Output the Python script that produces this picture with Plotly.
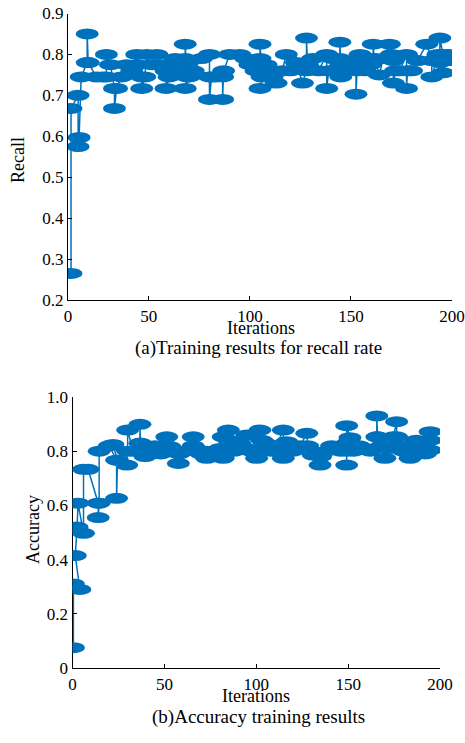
import plotly.graph_objects as go

# ---------------- data ----------------
recall_iter = [11.5, 11.5, 15, 15, 15.5, 16.5, 19.5, 19.5, 20, 24, 27, 29, 29, 31, 33, 33, 34,
               36.5, 39, 41.5, 44, 44.5, 46.5, 46.5, 48, 49, 51.5, 54, 57, 58.5, 58.5, 60, 61,
               63, 66, 68, 68, 68.5, 69, 68, 70, 72, 76, 80, 80, 80, 81, 83, 86.5, 86.5, 87, 90,
               95, 98, 100, 103, 105, 105, 105.5, 106, 105, 107, 108, 111, 113, 116, 118, 120,
               123, 126, 128, 128, 128.5, 131, 134, 138, 138, 139, 141, 144.5, 144.5, 145, 145,
               147, 149.5, 152.5, 152.5, 153, 154.5, 157, 159.5, 161, 161, 161.5, 164, 166, 169,
               170, 171, 171, 172, 174, 177.5, 177.5, 178, 180, 183, 187.5, 190, 190, 193, 194,
               194, 195.5, 195.5, 198, 199]
recall_val = [0.265, 0.668, 0.70, 0.575, 0.597, 0.745, 0.78, 0.85, 0.78, 0.745, 0.745, 0.745,
              0.80, 0.775, 0.717, 0.668, 0.717, 0.745, 0.775, 0.76, 0.80, 0.775, 0.745, 0.717,
              0.745, 0.80, 0.775, 0.80, 0.775, 0.76, 0.717, 0.745, 0.76, 0.79, 0.775, 0.79,
              0.825, 0.775, 0.745, 0.717, 0.745, 0.76, 0.79, 0.80, 0.745, 0.69, 0.745, 0.745,
              0.745, 0.69, 0.76, 0.80, 0.80, 0.79, 0.775, 0.76, 0.79, 0.825, 0.775, 0.745,
              0.717, 0.76, 0.775, 0.745, 0.73, 0.76, 0.80, 0.76, 0.78, 0.73, 0.76, 0.84, 0.775,
              0.79, 0.76, 0.80, 0.717, 0.76, 0.79, 0.79, 0.83, 0.775, 0.745, 0.77, 0.775, 0.785,
              0.703, 0.76, 0.80, 0.76, 0.775, 0.79, 0.825, 0.79, 0.75, 0.79, 0.825, 0.80, 0.785,
              0.73, 0.76, 0.76, 0.80, 0.717, 0.76, 0.76, 0.785, 0.825, 0.785, 0.745, 0.80, 0.78,
              0.84, 0.80, 0.755, 0.80, 0.785]

acc_iter = [0.5, 0.5, 4, 1.5, 2.5, 3, 6, 6, 8.5, 14, 14, 14.5, 14.5, 20, 24, 24, 24.5, 22,
            29.5, 30, 30, 33, 36.7, 36.7, 37, 39.5, 42, 45, 48, 51.3, 51.3, 53, 57.6, 57.6, 58,
            61, 65.7, 65.7, 66.7, 70, 73, 73, 76, 80.3, 82, 82, 84, 84.8, 85, 88, 91, 94.8,
            94.8, 97, 100.2, 100.5, 102, 103, 105, 108, 111, 114.7, 114.7, 115, 116.6, 120, 124,
            127.5, 128, 131, 134.7, 135, 138, 141, 143.8, 146, 149.2, 149.2, 149.5, 149.2, 151,
            153, 156, 159, 162, 165.6, 165.6, 166, 168, 170, 172, 174.6, 176.4, 176.4, 177, 180,
            183.7, 183.7, 184, 187, 189.1, 192, 194.6, 194.6, 194.6]
acc_val = [0.075, 0.31, 0.29, 0.415, 0.52, 0.608, 0.497, 0.733, 0.733, 0.608, 0.555, 0.608,
           0.80, 0.82, 0.767, 0.626, 0.767, 0.825, 0.749, 0.80, 0.878, 0.80, 0.829, 0.899, 0.83,
           0.78, 0.80, 0.82, 0.79, 0.82, 0.853, 0.817, 0.80, 0.755, 0.79, 0.80, 0.82, 0.853,
           0.81, 0.79, 0.774, 0.80, 0.80, 0.81, 0.853, 0.774, 0.80, 0.878, 0.84, 0.80, 0.83,
           0.86, 0.81, 0.80, 0.774, 0.80, 0.878, 0.84, 0.83, 0.80, 0.82, 0.878, 0.774, 0.80,
           0.835, 0.80, 0.82, 0.866, 0.82, 0.786, 0.749, 0.78, 0.80, 0.82, 0.817, 0.80, 0.829,
           0.749, 0.80, 0.894, 0.85, 0.80, 0.82, 0.81, 0.80, 0.853, 0.93, 0.853, 0.82, 0.774,
           0.81, 0.853, 0.909, 0.853, 0.82, 0.80, 0.82, 0.774, 0.80, 0.84, 0.81, 0.79, 0.804,
           0.84, 0.872]

recall_xtick_vals = [10, 50, 100, 150, 200]
recall_xtick_text = ["0", "50", "100", "150", "200"]
recall_ytick_vals = [0.2, 0.3, 0.4, 0.5, 0.6, 0.7, 0.8, 0.9]
recall_ytick_text = ["0.2", "0.3", "0.4", "0.5", "0.6", "0.7", "0.8", "0.9"]
acc_xtick_vals = [0, 50, 100, 150, 200]
acc_xtick_text = ["0", "50", "100", "150", "200"]
acc_ytick_vals = [0, 0.2, 0.4, 0.6, 0.8, 1.0]
acc_ytick_text = ["0", "0.2", "0.4", "0.6", "0.8", "1.0"]

# ---------------- style ----------------
W, H = 465, 743
BLUE = "#0072BD"
FONT = "Liberation Serif, Times New Roman, serif"
FS_TICK = 17
FS_TITLE = 18
FS_CAPTION = 19

def px_x(p):
    return p / W

def px_y(p):
    return (H - p) / H

fig = go.Figure()
fig.add_trace(go.Scatter(x=recall_iter, y=recall_val, mode="lines",
                         line=dict(color=BLUE, width=1.5), xaxis="x", yaxis="y",
                         showlegend=False, hoverinfo="skip"))
fig.add_trace(go.Scatter(x=acc_iter, y=acc_val, mode="lines",
                         line=dict(color=BLUE, width=1.5), xaxis="x2", yaxis="y2",
                         showlegend=False, hoverinfo="skip"))

shapes = []
for xs, ys, xr, yr in [(recall_iter, recall_val, "x", "y"), (acc_iter, acc_val, "x2", "y2")]:
    for xv, yv in zip(xs, ys):
        shapes.append(dict(type="circle", xref=xr, yref=yr,
                           xsizemode="pixel", ysizemode="pixel",
                           xanchor=xv, yanchor=yv,
                           x0=-11.5, x1=11.5, y0=-5.5, y1=5.5,
                           fillcolor=BLUE, line=dict(width=0), layer="above"))

axis_common = dict(showline=True, linecolor="black", linewidth=1.3, ticks="inside",
                   ticklen=4, tickwidth=1.2, tickcolor="black", showgrid=False,
                   zeroline=False, mirror=False, automargin=False,
                   ticklabeloverflow="allow",
                   tickfont=dict(family=FONT, size=FS_TICK, color="black"))

fig.update_layout(
    width=W, height=H, margin=dict(l=0, r=0, t=0, b=0),
    plot_bgcolor="white", paper_bgcolor="white",
    font=dict(family=FONT, size=FS_TICK, color="black"),
    xaxis=dict(domain=[px_x(68), px_x(452)], range=[10, 200], anchor="y",
               tickmode="array", tickvals=recall_xtick_vals, ticktext=recall_xtick_text,
               **axis_common),
    yaxis=dict(domain=[px_y(300), px_y(13.5)], range=[0.2, 0.9], anchor="x",
               tickmode="array", tickvals=recall_ytick_vals, ticktext=recall_ytick_text,
               **axis_common),
    xaxis2=dict(domain=[px_x(72.5), px_x(440)], range=[0, 200], anchor="y2",
                tickmode="array", tickvals=acc_xtick_vals, ticktext=acc_xtick_text,
                **axis_common),
    yaxis2=dict(domain=[px_y(668), px_y(397)], range=[0, 1.0], anchor="x2",
                tickmode="array", tickvals=acc_ytick_vals, ticktext=acc_ytick_text,
                **axis_common),
    shapes=shapes,
)

def note(text, x, y, size, angle=0):
    fig.add_annotation(text=text, x=px_x(x), y=px_y(y), xref="paper", yref="paper",
                       showarrow=False, textangle=angle, xanchor="center", yanchor="middle",
                       font=dict(family=FONT, size=size, color="black"))

note("Recall", 18, 160, FS_TITLE, -90)
note("Iterations", 261, 328, FS_TITLE)
note("(a)Training results for recall rate", 258, 348, FS_CAPTION)
note("Accuracy", 33, 530, FS_TITLE, -90)
note("Iterations", 256, 696, FS_TITLE)
note("(b)Accuracy training results", 258, 717, FS_CAPTION)

fig.write_html(
    "out.html",
    config={"displayModeBar": False},
    post_script="document.body.style.margin='0';document.body.style.overflow='hidden';",
)
